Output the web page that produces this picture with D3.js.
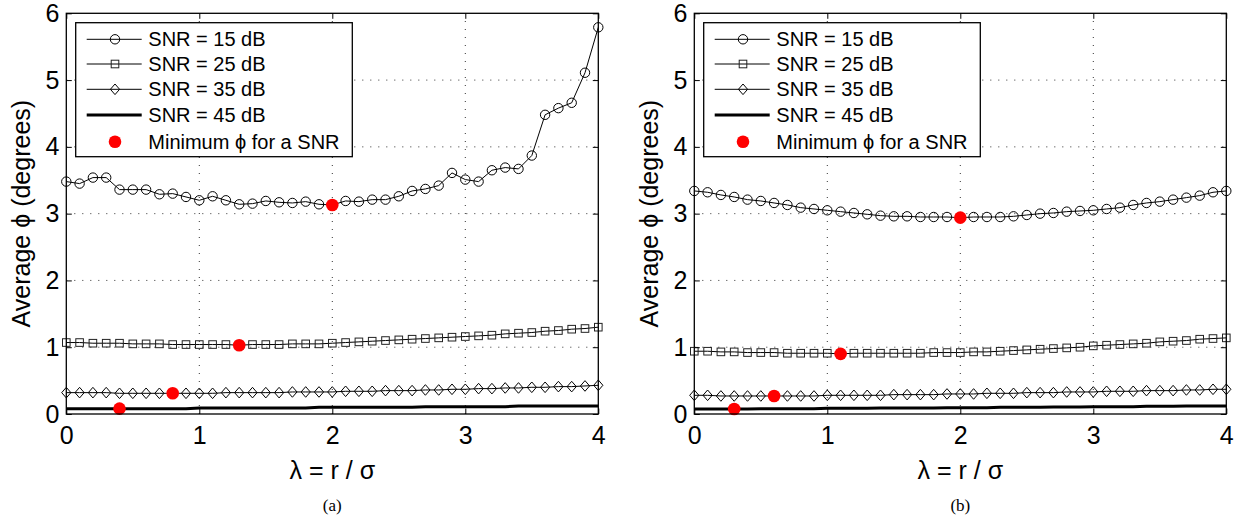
<!DOCTYPE html>
<html>
<head>
<meta charset="utf-8">
<script src="https://cdn.jsdelivr.net/npm/d3@7"></script>
<style>
  body { margin: 0; background: #fff; }
  svg { display: block; }
  .tick text { font-family: "Liberation Sans", Arial, sans-serif; }
</style>
</head>
<body>
<div id="chart"></div>
<script>
// lambda = r / sigma, sampled every 0.1
const lambdas = [0, 0.1, 0.2, 0.3, 0.4, 0.5, 0.6, 0.7, 0.8, 0.9, 1.0,
  1.1, 1.2, 1.3, 1.4, 1.5, 1.6, 1.7, 1.8, 1.9, 2.0,
  2.1, 2.2, 2.3, 2.4, 2.5, 2.6, 2.7, 2.8, 2.9, 3.0,
  3.1, 3.2, 3.3, 3.4, 3.5, 3.6, 3.7, 3.8, 3.9, 4.0];

const xTicks = [0, 1, 2, 3, 4];
const yTicks = [0, 1, 2, 3, 4, 5, 6];

const seriesNames = ['SNR = 15 dB', 'SNR = 25 dB', 'SNR = 35 dB', 'SNR = 45 dB'];
const minLabel = 'Minimum \u03D5 for a SNR';

// panel (a)
const snr15A = [3.48, 3.45, 3.54, 3.54, 3.36, 3.36, 3.36, 3.29, 3.30, 3.25, 3.20,
  3.26, 3.20, 3.14, 3.15, 3.19, 3.17, 3.16, 3.18, 3.14, 3.13,
  3.19, 3.18, 3.21, 3.21, 3.26, 3.34, 3.37, 3.42, 3.61, 3.51,
  3.48, 3.65, 3.69, 3.67, 3.87, 4.48, 4.58, 4.66, 5.11, 5.79];
const snr25A = [1.07, 1.07, 1.06, 1.06, 1.06, 1.05, 1.05, 1.05, 1.04, 1.04, 1.04,
  1.04, 1.04, 1.03, 1.04, 1.04, 1.04, 1.05, 1.05, 1.05, 1.06,
  1.07, 1.08, 1.09, 1.10, 1.11, 1.12, 1.13, 1.14, 1.15, 1.16,
  1.17, 1.18, 1.20, 1.21, 1.22, 1.24, 1.25, 1.27, 1.28, 1.30];
const snr35A = [0.32, 0.32, 0.32, 0.32, 0.31, 0.31, 0.31, 0.31, 0.31, 0.31, 0.31,
  0.31, 0.32, 0.32, 0.32, 0.32, 0.32, 0.33, 0.33, 0.33, 0.33,
  0.34, 0.34, 0.34, 0.35, 0.35, 0.35, 0.36, 0.36, 0.37, 0.37,
  0.38, 0.38, 0.39, 0.39, 0.40, 0.40, 0.41, 0.41, 0.42, 0.43];
const snr45A = [0.08, 0.08, 0.08, 0.08, 0.08, 0.08, 0.08, 0.08, 0.08, 0.08, 0.09,
  0.09, 0.09, 0.09, 0.09, 0.09, 0.09, 0.09, 0.09, 0.10, 0.10,
  0.10, 0.10, 0.10, 0.10, 0.10, 0.10, 0.11, 0.11, 0.11, 0.11,
  0.11, 0.11, 0.11, 0.12, 0.12, 0.12, 0.12, 0.12, 0.12, 0.12];
const minLambdaA = [2.0, 1.3, 0.8, 0.4];

// panel (b)
const snr15B = [3.34, 3.32, 3.28, 3.25, 3.21, 3.19, 3.16, 3.13, 3.09, 3.07, 3.05,
  3.03, 3.01, 2.99, 2.97, 2.96, 2.96, 2.95, 2.95, 2.95, 2.94,
  2.95, 2.95, 2.95, 2.96, 2.98, 3.00, 3.01, 3.03, 3.04, 3.05,
  3.07, 3.09, 3.13, 3.16, 3.18, 3.21, 3.24, 3.27, 3.32, 3.34];
const snr25B = [0.94, 0.94, 0.93, 0.93, 0.92, 0.92, 0.92, 0.91, 0.91, 0.91, 0.91,
  0.90, 0.91, 0.91, 0.91, 0.91, 0.91, 0.91, 0.92, 0.92, 0.92,
  0.93, 0.93, 0.94, 0.95, 0.96, 0.97, 0.98, 0.99, 1.00, 1.02,
  1.03, 1.04, 1.05, 1.06, 1.08, 1.09, 1.10, 1.12, 1.13, 1.14];
const snr35B = [0.28, 0.28, 0.27, 0.27, 0.27, 0.27, 0.27, 0.27, 0.27, 0.27, 0.28,
  0.28, 0.28, 0.28, 0.28, 0.29, 0.29, 0.29, 0.29, 0.30, 0.30,
  0.30, 0.31, 0.31, 0.31, 0.32, 0.32, 0.32, 0.33, 0.33, 0.33,
  0.34, 0.34, 0.34, 0.35, 0.35, 0.35, 0.36, 0.36, 0.37, 0.37];
const snr45B = [0.075, 0.075, 0.075, 0.075, 0.075, 0.08, 0.08, 0.08, 0.08, 0.08, 0.085,
  0.085, 0.085, 0.085, 0.09, 0.09, 0.09, 0.09, 0.09, 0.095, 0.095,
  0.095, 0.095, 0.10, 0.10, 0.10, 0.10, 0.105, 0.105, 0.105, 0.11,
  0.11, 0.11, 0.11, 0.115, 0.115, 0.115, 0.12, 0.12, 0.12, 0.12];
const minLambdaB = [2.0, 1.1, 0.6, 0.3];

const W = 1244, H = 519;
const plot = { top: 13.3, bottom: 414, width: 532 };
const font = '"Liberation Sans", Arial, Helvetica, sans-serif';

const svg = d3.select('#chart').append('svg')
  .attr('width', W)
  .attr('height', H);

const markers = ['circle', 'square', 'diamond', null];

function drawMarker(g, type, x, y) {
  if (type === 'circle') {
    g.append('circle').attr('cx', x).attr('cy', y).attr('r', 4.7)
      .attr('fill', 'none').attr('stroke', '#000').attr('stroke-width', 1);
  } else if (type === 'square') {
    g.append('rect').attr('x', x - 3.8).attr('y', y - 3.8)
      .attr('width', 7.6).attr('height', 7.6)
      .attr('fill', 'none').attr('stroke', '#222').attr('stroke-width', 1);
  } else if (type === 'diamond') {
    g.append('path')
      .attr('d', `M${x},${y - 5.3}L${x + 4.6},${y}L${x},${y + 5.3}L${x - 4.6},${y}Z`)
      .attr('fill', 'none').attr('stroke', '#000').attr('stroke-width', 1);
  }
}

function drawPanel(left, series, minLambdas, caption) {
  const x = d3.scaleLinear().domain([0, 4]).range([left, left + plot.width]);
  const y = d3.scaleLinear().domain([0, 6]).range([plot.bottom, plot.top]);
  const g = svg.append('g');

  // dotted grid
  const grid = g.append('g').attr('stroke', '#333').attr('stroke-width', 1)
    .attr('stroke-dasharray', '1,7');
  grid.selectAll('.gx').data(xTicks.slice(1, -1)).enter().append('line')
    .attr('x1', d => x(d)).attr('x2', d => x(d))
    .attr('y1', plot.bottom).attr('y2', plot.top);
  grid.selectAll('.gy').data(yTicks.slice(1, -1)).enter().append('line')
    .attr('x1', x(0)).attr('x2', x(4))
    .attr('y1', d => y(d)).attr('y2', d => y(d));

  // lines
  const line = d3.line().x((d, i) => x(lambdas[i])).y(d => y(d));
  series.forEach((s, k) => {
    g.append('path').datum(s)
      .attr('fill', 'none')
      .attr('stroke', '#000')
      .attr('stroke-width', k === 3 ? 3 : 1)
      .attr('d', line);
  });

  // markers
  series.forEach((s, k) => {
    if (!markers[k]) return;
    const mg = g.append('g');
    s.forEach((v, i) => drawMarker(mg, markers[k], x(lambdas[i]), y(v)));
  });

  // minimum points
  g.append('g').selectAll('circle')
    .data(minLambdas.map((l, k) => ({ l, v: series[k][lambdas.indexOf(l)] })))
    .enter().append('circle')
    .attr('cx', d => x(d.l)).attr('cy', d => y(d.v))
    .attr('r', 6.3).attr('fill', '#ff0000');

  // axes (ticks point inward)
  const styleAxis = sel => {
    sel.select('.domain').remove();
    sel.selectAll('.tick line').attr('stroke', '#000').attr('stroke-width', 1);
    sel.selectAll('text').style('font-family', font).style('font-size', '25px')
      .attr('fill', '#000');
  };
  g.append('g').attr('transform', `translate(0,${plot.bottom})`)
    .call(d3.axisBottom(x).tickValues(xTicks).tickSize(-5.5).tickPadding(12).tickFormat(d3.format('d')))
    .call(styleAxis);
  g.append('g').attr('transform', `translate(0,${plot.top})`)
    .call(d3.axisTop(x).tickValues(xTicks).tickSize(-5.5).tickFormat(''))
    .call(styleAxis);
  g.append('g').attr('transform', `translate(${x(0)},0)`)
    .call(d3.axisLeft(y).tickValues(yTicks).tickSize(-5.5).tickPadding(7).tickFormat(d3.format('d')))
    .call(styleAxis);
  g.append('g').attr('transform', `translate(${x(4)},0)`)
    .call(d3.axisRight(y).tickValues(yTicks).tickSize(-5.5).tickFormat(''))
    .call(styleAxis);

  // box
  g.append('rect')
    .attr('x', x(0)).attr('y', plot.top)
    .attr('width', x(4) - x(0)).attr('height', plot.bottom - plot.top)
    .attr('fill', 'none').attr('stroke', '#000').attr('stroke-width', 1.3);

  // axis labels
  g.append('text')
    .attr('x', (x(0) + x(4)) / 2).attr('y', 479)
    .attr('text-anchor', 'middle')
    .style('font-family', font).style('font-size', '25px')
    .text('\u03BB = r / \u03C3');
  g.append('text')
    .attr('transform', `translate(${left - 36},${(plot.top + plot.bottom) / 2}) rotate(-90)`)
    .attr('text-anchor', 'middle')
    .style('font-family', font).style('font-size', '25px')
    .text('Average \u03D5 (degrees)');

  // caption
  g.append('text')
    .attr('x', (x(0) + x(4)) / 2).attr('y', 511)
    .attr('text-anchor', 'middle')
    .style('font-family', '"Liberation Serif", "Times New Roman", serif')
    .style('font-size', '17px')
    .text(caption);

  // legend
  const lg = g.append('g').attr('transform', `translate(${left + 9.4},${plot.top + 9.4})`);
  lg.append('rect').attr('width', 276.6).attr('height', 134)
    .attr('fill', '#fff').attr('stroke', '#000').attr('stroke-width', 1.3);
  const rowY = [16.6, 41.3, 66.6, 92.3, 119];
  seriesNames.forEach((name, k) => {
    lg.append('line')
      .attr('x1', 11).attr('x2', 66).attr('y1', rowY[k]).attr('y2', rowY[k])
      .attr('stroke', '#000').attr('stroke-width', k === 3 ? 3 : 1);
    if (markers[k]) drawMarker(lg, markers[k], 39.3, rowY[k]);
    lg.append('text').attr('x', 72.6).attr('y', rowY[k] + 7)
      .style('font-family', font).style('font-size', '20px')
      .text(name);
  });
  lg.append('circle').attr('cx', 39.3).attr('cy', rowY[4]).attr('r', 6.3).attr('fill', '#ff0000');
  lg.append('text').attr('x', 72.6).attr('y', rowY[4] + 7)
    .style('font-family', font).style('font-size', '20px')
    .text(minLabel);
}

drawPanel(66.3, [snr15A, snr25A, snr35A, snr45A], minLambdaA, '(a)');
drawPanel(694.3, [snr15B, snr25B, snr35B, snr45B], minLambdaB, '(b)');
</script>
</body>
</html>
